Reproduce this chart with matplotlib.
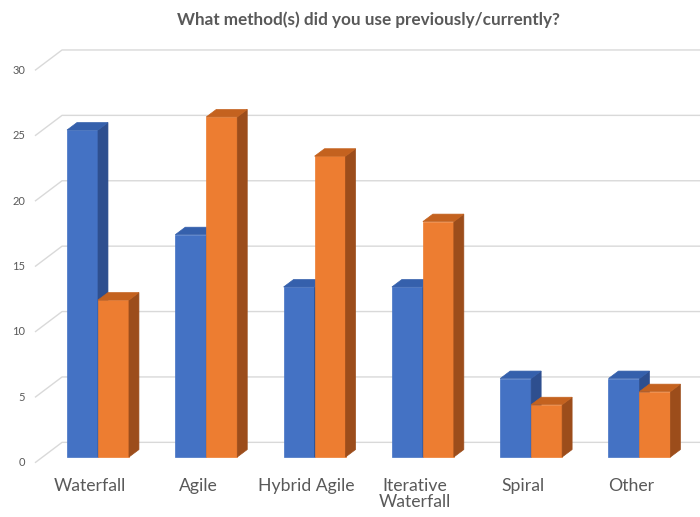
import matplotlib.pyplot as plt
from matplotlib.patches import Polygon

categories = ['Waterfall', 'Agile', 'Hybrid Agile', 'Iterative\nWaterfall', 'Spiral', 'Other']
previously = [25, 17, 13, 13, 6, 6]
currently = [12, 26, 23, 18, 4, 5]
yticks = [0, 5, 10, 15, 20, 25, 30]

plt.rcParams['font.family'] = ['Lato', 'DejaVu Sans']

fig = plt.figure(figsize=(7, 5.17), dpi=100)
ax = fig.add_axes([0, 0, 1, 1])
ax.set_xlim(-0.905, 5.559)
ax.set_ylim(-4.587, 34.94)
ax.axis('off')

w = 0.286      # bar width in category units
dx = 0.092     # depth shift sideways
dy = 0.57      # depth shift upwards
wall_x0, wall_x1 = -0.582, -0.332
front_off, back_off = -0.44, 1.12

# back wall gridlines with the slanted side wall piece
for v in yticks:
    ax.plot([wall_x0, wall_x1, 5.6], [v + front_off, v + back_off, v + back_off],
            color='#d9d9d9', lw=1.0, zorder=1, solid_capstyle='butt')
    ax.text(-0.674, v + front_off, str(v), ha='right', va='center',
            fontsize=8, color='#595959')


def bar3d(x0, h, front, side, top):
    x1 = x0 + w
    ax.add_patch(Polygon([(x0, 0), (x1, 0), (x1, h), (x0, h)], closed=True,
                         facecolor=front, edgecolor=front, lw=0.5, zorder=3))
    ax.add_patch(Polygon([(x1, 0), (x1 + dx, dy), (x1 + dx, h + dy), (x1, h)], closed=True,
                         facecolor=side, edgecolor=side, lw=0.5, zorder=3))
    ax.add_patch(Polygon([(x0, h), (x1, h), (x1 + dx, h + dy), (x0 + dx, h + dy)], closed=True,
                         facecolor=top, edgecolor=top, lw=0.5, zorder=3))


for i, cat in enumerate(categories):
    bar3d(i - w, previously[i], '#4472c4', '#2e4f8f', '#3560ac')
    bar3d(i, currently[i], '#ed7d31', '#9c4d1b', '#c4621f')
    ax.text(i - 0.074, -1.62, cat, ha='center', va='top', fontsize=12.7,
            color='#595959', linespacing=1.0)

fig.text(0.526, 1 - 19.5 / 517, 'What method(s) did you use previously/currently?',
         ha='center', va='center', fontsize=12.3, fontweight='bold', color='#595959')

fig.savefig('out.png', dpi=100)
